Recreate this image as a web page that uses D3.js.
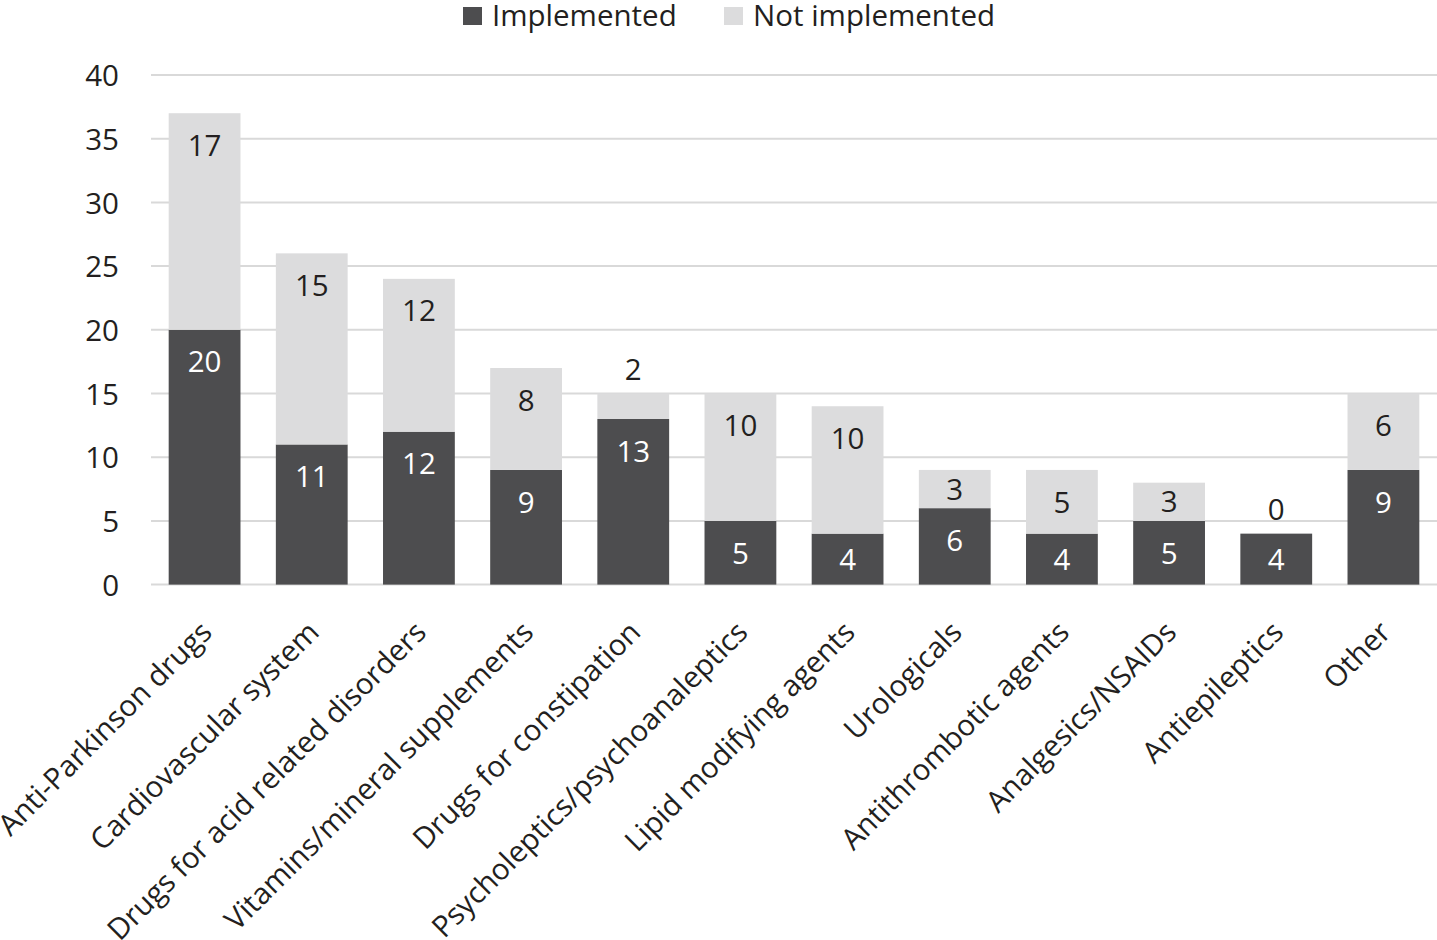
<!DOCTYPE html>
<html>
<head>
<meta charset="utf-8">
<script src="https://cdn.jsdelivr.net/npm/d3@7"></script>
<style>
  html, body { margin: 0; padding: 0; background: #fff; }
  svg text { font-family: "Open Sans", sans-serif; fill: #231f20; }
</style>
</head>
<body>
<svg id="chart" width="1437" height="940"></svg>
<script>
const categories = [
  "Anti-Parkinson drugs", "Cardiovascular system", "Drugs for acid related disorders",
  "Vitamins/mineral supplements", "Drugs for constipation", "Psycholeptics/psychoanaleptics",
  "Lipid modifying agents", "Urologicals", "Antithrombotic agents", "Analgesics/NSAIDs",
  "Antiepileptics", "Other"
];
const implemented    = [20, 11, 12, 9, 13, 5, 4, 6, 4, 5, 4, 9];
const notImplemented = [17, 15, 12, 8, 2, 10, 10, 3, 5, 3, 0, 6];
const seriesNames = ["Implemented", "Not implemented"];
const yTicks = [0, 5, 10, 15, 20, 25, 30, 35, 40];

const colors = ["#4d4d4f", "#dcdcdd"];
const labelColors = ["#ffffff", "#231f20"];
const FS = 29.5;

const svg = d3.select("#chart");

const x = d3.scaleBand()
  .domain(categories)
  .range([151, 1437])
  .paddingInner(0.33)
  .paddingOuter(0.165);

const y = d3.scaleLinear().domain([0, 40]).range([584.6, 75]);

// gridlines
svg.append("g").selectAll("line")
  .data(yTicks)
  .join("line")
  .attr("x1", 151).attr("x2", 1437)
  .attr("y1", d => y(d)).attr("y2", d => y(d))
  .attr("stroke", "#d9d9d9").attr("stroke-width", 2);

// y axis labels
const yAxis = d3.axisLeft(y).tickValues(yTicks).tickSize(0).tickPadding(0);
const gy = svg.append("g").attr("transform", "translate(119,0)").call(yAxis);
gy.select(".domain").remove();
gy.selectAll("text")
  .attr("font-size", FS)
  .attr("font-family", "Open Sans, sans-serif")
  .attr("fill", "#231f20")
  .attr("dy", "0.36em");

// stacked data
const rows = categories.map((c, i) => ({ cat: c, Implemented: implemented[i], "Not implemented": notImplemented[i] }));
const stack = d3.stack().keys(seriesNames)(rows);

const layers = svg.append("g").selectAll("g")
  .data(stack)
  .join("g")
  .attr("fill", (d, i) => colors[i]);

layers.selectAll("rect")
  .data(d => d)
  .join("rect")
  .attr("x", d => x(d.data.cat))
  .attr("width", x.bandwidth())
  .attr("y", d => y(d[1]))
  .attr("height", d => y(d[0]) - y(d[1]));

// value labels
stack.forEach((layer, li) => {
  svg.append("g").selectAll("text")
    .data(layer)
    .join("text")
    .attr("x", d => x(d.data.cat) + x.bandwidth() / 2)
    .attr("y", d => {
      const top = y(d[1]), bot = y(d[0]);
      const h = bot - top;
      if (h >= 60) return top + 32;
      if (h >= 30) return (top + bot) / 2;
      return top - 24;
    })
    .attr("dy", "0.36em")
    .attr("text-anchor", "middle")
    .attr("font-size", FS)
    .style("fill", d => (y(d[0]) - y(d[1]) >= 30 ? labelColors[li] : "#231f20"))
    .text(d => d[1] - d[0]);
});

// category labels
svg.append("g").selectAll("text")
  .data(categories)
  .join("text")
  .attr("transform", d => `translate(${x(d) + x.bandwidth() / 2 + 9},634) rotate(-45)`)
  .attr("text-anchor", "end")
  .attr("font-size", FS)
  .text(d => d);

// legend
const legendX = [463, 724];
const legend = svg.append("g").selectAll("g")
  .data(seriesNames)
  .join("g")
  .attr("transform", (d, i) => `translate(${legendX[i]},0)`);
legend.append("rect")
  .attr("x", 0).attr("y", 7).attr("width", 19).attr("height", 18)
  .attr("fill", (d, i) => colors[i]);
legend.append("text")
  .attr("x", 29).attr("y", 26)
  .attr("font-size", FS)
  .text(d => d);
</script>
</body>
</html>
